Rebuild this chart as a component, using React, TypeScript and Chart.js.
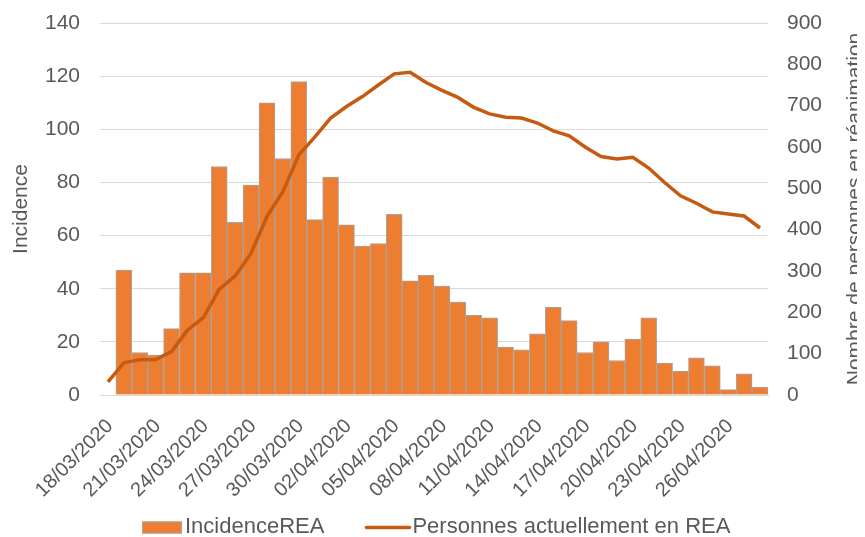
import React, { useEffect, useRef } from "react";
import { Chart, registerables } from "chart.js";

Chart.register(...registerables);

const dates = [
  "18/03/2020", "19/03/2020", "20/03/2020", "21/03/2020", "22/03/2020", "23/03/2020",
  "24/03/2020", "25/03/2020", "26/03/2020", "27/03/2020", "28/03/2020", "29/03/2020",
  "30/03/2020", "31/03/2020", "01/04/2020", "02/04/2020", "03/04/2020", "04/04/2020",
  "05/04/2020", "06/04/2020", "07/04/2020", "08/04/2020", "09/04/2020", "10/04/2020",
  "11/04/2020", "12/04/2020", "13/04/2020", "14/04/2020", "15/04/2020", "16/04/2020",
  "17/04/2020", "18/04/2020", "19/04/2020", "20/04/2020", "21/04/2020", "22/04/2020",
  "23/04/2020", "24/04/2020", "25/04/2020", "26/04/2020", "27/04/2020", "28/04/2020",
];

const incidenceREA = [
  null, 47, 16, 15, 25, 46, 46, 86, 65, 79, 110, 89, 118, 66, 82, 64, 56, 57, 68, 43, 45,
  41, 35, 30, 29, 18, 17, 23, 33, 28, 16, 20, 13, 21, 29, 12, 9, 14, 11, 2, 8, 3,
];

const personnesREA = [
  32, 78, 85, 86, 105, 157, 187, 256, 288, 343, 432, 492, 581, 624, 670, 698, 722, 750,
  777, 781, 756, 737, 720, 696, 680, 672, 670, 658, 639, 627, 600, 577, 571, 575, 549,
  514, 482, 464, 443, 438, 433, 404,
];

const leftTicks = [0, 20, 40, 60, 80, 100, 120, 140];
const rightTicks = [0, 100, 200, 300, 400, 500, 600, 700, 800, 900];

const FONT = "'Liberation Sans', Arial, sans-serif";
const TEXT = "#595959";
const BAR_FILL = "#ED7D31";
const BAR_BORDER = "#A5A5A5";
const LINE_COLOR = "#C55A11";
const RIGHT_TITLE = "Nombre de personnes en réanimation";

const rightTitlePlugin = {
  id: "rightTitle",
  afterDraw(chart: any) {
    const { ctx, chartArea } = chart;
    ctx.save();
    ctx.translate(847, (chartArea.top + chartArea.bottom) / 2);
    ctx.rotate(-Math.PI / 2);
    ctx.font = `21px ${FONT}`;
    ctx.fillStyle = TEXT;
    ctx.textAlign = "center";
    ctx.textBaseline = "middle";
    ctx.fillText(RIGHT_TITLE, 0, 0);
    ctx.restore();
  },
};

// Legend drawn on the chart canvas (bar item, then line item)
const bottomLegendPlugin = {
  id: "bottomLegend",
  afterDraw(chart: any) {
    const { ctx, chartArea } = chart;
    const dsBar = chart.data.datasets[0];
    const dsLine = chart.data.datasets[1];
    const cy = chart.height - 10.5;
    ctx.save();
    ctx.font = `22px ${FONT}`;
    ctx.textBaseline = "middle";
    ctx.textAlign = "left";
    let x = chartArea.left + 42;
    ctx.fillStyle = BAR_FILL;
    ctx.fillRect(x, cy - 5, 40, 12);
    ctx.strokeStyle = BAR_BORDER;
    ctx.lineWidth = 1;
    ctx.strokeRect(x + 0.5, cy - 4.5, 39, 11);
    x += 43;
    ctx.fillStyle = TEXT;
    ctx.fillText(dsBar.label, x, cy);
    x += ctx.measureText(dsBar.label).width + 42;
    ctx.strokeStyle = LINE_COLOR;
    ctx.lineWidth = 3.5;
    ctx.lineCap = "round";
    ctx.beginPath();
    ctx.moveTo(x, cy + 1);
    ctx.lineTo(x + 43, cy + 1);
    ctx.stroke();
    x += 46;
    ctx.fillStyle = TEXT;
    ctx.fillText(dsLine.label, x, cy);
    ctx.restore();
  },
};

export default function App() {
  const ref = useRef<HTMLCanvasElement | null>(null);

  useEffect(() => {
    if (!ref.current) return;
    const chart = new Chart(ref.current, {
      type: "bar",
      data: {
        labels: dates,
        datasets: [
          {
            type: "bar",
            label: "IncidenceREA",
            data: incidenceREA as any,
            backgroundColor: BAR_FILL,
            borderColor: BAR_BORDER,
            borderWidth: 1,
            barPercentage: 1,
            categoryPercentage: 1,
            yAxisID: "y",
            order: 1,
          },
          {
            type: "line",
            label: "Personnes actuellement en REA",
            data: personnesREA,
            borderColor: LINE_COLOR,
            backgroundColor: LINE_COLOR,
            borderWidth: 3.5,
            pointRadius: 0,
            tension: 0,
            yAxisID: "y1",
            order: 0,
          },
        ],
      },
      options: {
        animation: false,
        responsive: true,
        maintainAspectRatio: false,
        layout: { padding: { top: 15, left: 0, right: 0, bottom: 0 } },
        plugins: {
          tooltip: { enabled: false },
          legend: { display: false },
        },
        scales: {
          x: {
            grid: { display: false },
            border: { display: true, color: "#D9D9D9", width: 1 },
            afterFit: (s: any) => {
              s.height = 142;
            },
            ticks: {
              autoSkip: false,
              minRotation: 45,
              maxRotation: 45,
              padding: 11.5,
              labelOffset: 2,
              color: TEXT,
              font: { family: FONT, size: 20 },
              callback: (_v: any, i: number) => (i % 3 === 0 ? dates[i] : ""),
            },
          },
          y: {
            position: "left",
            min: 0,
            max: 140,
            afterBuildTicks: (s: any) => {
              s.ticks = leftTicks.map((v) => ({ value: v }));
            },
            afterFit: (s: any) => {
              s.width = 92;
              s.paddingTop = 0;
              s.paddingBottom = 0;
            },
            grid: { color: "#D9D9D9", lineWidth: 1, drawTicks: false },
            border: { display: false },
            ticks: {
              padding: 20,
              color: TEXT,
              font: { family: FONT, size: 21 },
            },
            title: {
              display: true,
              text: "Incidence",
              color: TEXT,
              font: { family: FONT, size: 21 },
              padding: { top: 1, bottom: 0 },
            },
          },
          y1: {
            position: "right",
            min: 0,
            max: 900,
            afterBuildTicks: (s: any) => {
              s.ticks = rightTicks.map((v) => ({ value: v }));
            },
            afterFit: (s: any) => {
              s.width = 97;
              s.paddingTop = 0;
              s.paddingBottom = 0;
            },
            grid: { drawOnChartArea: false, drawTicks: false },
            border: { display: false },
            ticks: {
              padding: 19,
              color: TEXT,
              font: { family: FONT, size: 21 },
            },
          },
        },
      },
      plugins: [rightTitlePlugin, bottomLegendPlugin],
    });
    return () => chart.destroy();
  }, []);

  return (
    <div style={{ width: 857, height: 529 }}>
      <canvas ref={ref} />
    </div>
  );
}
